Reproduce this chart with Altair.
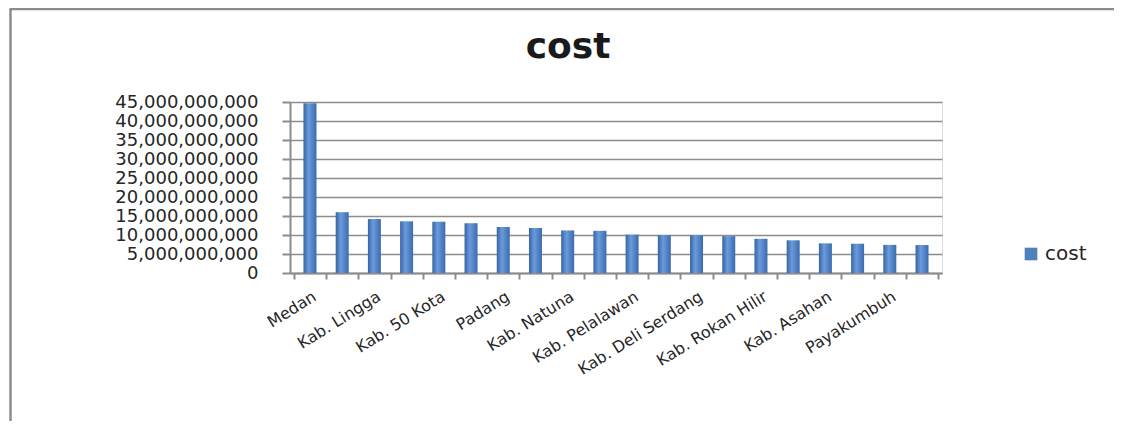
import json
import altair as alt
import pandas as pd

# ---- data ----
ranks = list(range(1, 21))
tick_labels = ["Medan", "", "Kab. Lingga", "", "Kab. 50 Kota", "", "Padang", "",
               "Kab. Natuna", "", "Kab. Pelalawan", "", "Kab. Deli Serdang", "",
               "Kab. Rokan Hilir", "", "Kab. Asahan", "", "Payakumbuh", ""]
cost_billion = [44.7, 16.0, 14.2, 13.6, 13.5, 13.1, 12.1, 11.85, 11.2, 11.1,
                10.1, 9.95, 9.9, 9.7, 9.0, 8.6, 7.8, 7.7, 7.4, 7.35]
series = ["cost"] * 20
y_ticks = [0, 5e9, 10e9, 15e9, 20e9, 25e9, 30e9, 35e9, 40e9, 45e9]
chart_title = "cost"

df = pd.DataFrame({
    "rank": ranks,
    "cost": [v * 1e9 for v in cost_billion],
    "series": series,
})

label_expr = json.dumps(tick_labels) + "[datum.value - 1]"

FONT = "DejaVu Sans"
GRID = "#8c8c8c"

x_enc = alt.X(
    "rank:O",
    sort=ranks,
    scale=alt.Scale(paddingInner=0, paddingOuter=0.12),
    axis=alt.Axis(
        title=None,
        labelExpr=label_expr,
        labelAngle=328,
        labelFont=FONT,
        labelFontSize=16,
        labelColor="#262626",
        labelPadding=9,
        tickBand="extent",
        tickSize=6,
        tickColor=GRID,
        tickWidth=2,
        domainColor=GRID,
        domainWidth=2,
        grid=False,
        labelOverlap=False,
    ),
)

y_enc = alt.Y(
    "cost:Q",
    scale=alt.Scale(domain=[0, 45e9], nice=False),
    axis=alt.Axis(
        title=None,
        values=y_ticks,
        format=",d",
        labelFont=FONT,
        labelFontSize=18,
        labelColor="#262626",
        labelPadding=24,
        labelOverlap=False,
        tickSize=8,
        tickColor=GRID,
        tickWidth=2,
        domainColor=GRID,
        domainWidth=2,
        gridColor=GRID,
        gridWidth=1.6,
    ),
)

bar_fill = alt.Gradient(
    gradient="linear",
    stops=[
        alt.GradientStop(color="#36649f", offset=0),
        alt.GradientStop(color="#6a9bdc", offset=0.4),
        alt.GradientStop(color="#3b6bad", offset=1),
    ],
    x1=0, x2=1, y1=0, y2=0,
)

bars = alt.Chart(df).mark_bar(size=13, fill=bar_fill).encode(x=x_enc, y=y_enc)

legend_layer = alt.Chart(df).mark_square(opacity=0).encode(
    x=x_enc,
    y=y_enc,
    color=alt.Color(
        "series:N",
        scale=alt.Scale(range=["#4f81bd"]),
        legend=alt.Legend(
            title=None,
            orient="none",
            legendX=731,
            legendY=142,
            symbolType="square",
            symbolSize=160,
            symbolOpacity=1,
            symbolStrokeWidth=0,
            labelFont=FONT,
            labelFontSize=20,
            labelColor="#262626",
            padding=0,
        ),
    ),
)

one = pd.DataFrame({"t": [chart_title]})

frame_left = alt.Chart(one).mark_rule(stroke="#8c8c8c", strokeWidth=2.5).encode(
    x=alt.value(-279.5), y=alt.value(-93), y2=alt.value(400)
)
frame_top = alt.Chart(one).mark_rule(stroke="#8c8c8c", strokeWidth=2.5).encode(
    x=alt.value(-280.5), x2=alt.value(824), y=alt.value(-93)
)

title_text = alt.Chart(one).mark_text(
    font=FONT, fontSize=36, fontWeight="bold", color="#1a1a1a",
    align="center", baseline="alphabetic"
).encode(text="t:N", x=alt.value(278), y=alt.value(-44))

chart = alt.layer(frame_left, frame_top, bars, legend_layer, title_text).properties(
    width=652,
    height=171,
    padding={"left": 282, "top": 94, "right": 172, "bottom": 148},
    autosize=alt.AutoSizeParams(type="none"),
).configure_view(stroke=None).configure(background="white")

chart.save("out.html", embed_options={"renderer": "svg", "actions": False})
